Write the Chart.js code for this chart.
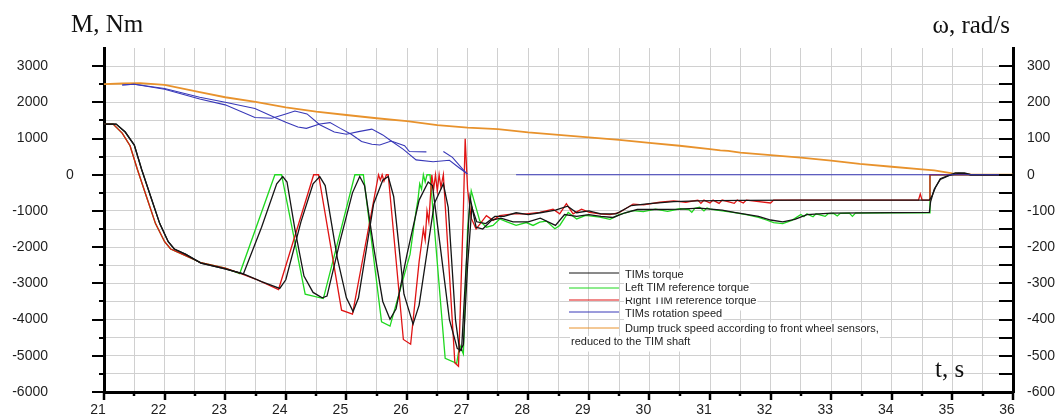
<!DOCTYPE html>
<html><head><meta charset="utf-8">
<script src="https://cdn.jsdelivr.net/npm/chart.js@4.4.1/dist/chart.umd.min.js"></script>
<style>html,body{margin:0;padding:0;background:#fff;overflow:hidden}canvas{display:block}</style>
</head><body>
<canvas id="c" width="1062" height="414"></canvas>
<script>
// ---- data: [t (s), value] ----
const timsTorqueLeft = [[21,1400],[21.2,1400],[21.35,1180],[21.5,820],[21.62,150],[21.77,-600],[21.92,-1350],[22.06,-1850],[22.16,-2050],[22.35,-2200],[22.6,-2440],[23,-2600],[23.3,-2740],[23.6,-1450],[23.85,-250],[23.95,-50],[24.02,-200],[24.15,-1500],[24.3,-2800],[24.45,-3250],[24.6,-3400],[24.68,-3350],[24.9,-1800],[25.1,-500],[25.22,-50],[25.3,-300],[25.45,-2000],[25.6,-3500],[25.72,-3990],[25.82,-3700],[26,-2200],[26.2,-700],[26.35,-200],[26.42,-300],[26.55,-2000],[26.7,-4000],[26.83,-4800],[26.9,-4850],[26.96,-3000],[27.04,-620],[27.14,-1450],[27.25,-1500],[27.4,-1250],[27.55,-1200],[27.75,-1300],[28,-1300],[28.2,-1200],[28.45,-1400],[28.6,-1100],[28.8,-1150],[29,-1100],[29.2,-1150],[29.4,-1180],[29.6,-1050],[29.8,-960],[30.1,-960],[30.5,-950],[30.83,-920],[31.2,-980],[31.4,-1040],[31.8,-1150],[32,-1250],[32.2,-1300],[32.4,-1230],[32.6,-1100],[33,-1060],[34.62,-1040],[34.64,-750],[34.7,-400],[34.8,-130],[34.95,-20],[35.1,40],[35.2,30],[35.3,0],[36,0]];
const timsTorqueRight = [[21,1400],[21.2,1400],[21.35,1180],[21.5,820],[21.62,150],[21.77,-600],[21.92,-1350],[22.06,-1850],[22.16,-2050],[22.35,-2200],[22.6,-2440],[23,-2600],[23.3,-2740],[23.6,-2950],[23.9,-3140],[24,-2900],[24.25,-1300],[24.45,-250],[24.56,-50],[24.65,-300],[24.85,-2300],[25,-3400],[25.11,-3780],[25.2,-3400],[25.45,-800],[25.6,-150],[25.69,-50],[25.78,-600],[25.95,-3300],[26.1,-4125],[26.2,-3600],[26.45,-800],[26.6,-250],[26.68,-900],[26.8,-4000],[26.87,-4870],[26.93,-4700],[27,-2500],[27.07,-900],[27.15,-1300],[27.3,-1350],[27.45,-1150],[27.6,-1150],[27.8,-1050],[28,-1100],[28.2,-1050],[28.45,-980],[28.65,-870],[28.8,-1050],[29,-1000],[29.2,-1080],[29.45,-1080],[29.7,-850],[30,-800],[30.4,-740],[30.8,-720],[31.5,-710],[32.5,-700],[34.62,-700],[34.66,-600],[34.72,-350],[34.8,-110],[34.95,-10],[35.05,50],[35.2,50],[35.3,0],[36,0]];
const leftRefTorque = [[21,1400],[21.15,1400],[21.3,1150],[21.43,800],[21.55,150],[21.7,-600],[21.85,-1350],[22,-1850],[22.1,-2050],[22.3,-2200],[22.6,-2430],[23,-2580],[23.24,-2730],[23.82,0],[23.93,0],[24.32,-3300],[24.62,-3420],[25.14,0],[25.28,0],[25.58,-4060],[25.72,-4180],[26.05,-2200],[26.15,-1000],[26.18,-700],[26.21,-250],[26.24,-400],[26.27,0],[26.3,-200],[26.33,0],[26.38,0],[26.63,-5070],[26.82,-5210],[26.87,-4700],[26.93,-4950],[27,-1500],[27.06,-440],[27.2,-1270],[27.31,-1450],[27.42,-1400],[27.53,-1220],[27.65,-1300],[27.8,-1400],[27.97,-1320],[28.08,-1400],[28.19,-1310],[28.3,-1280],[28.44,-1490],[28.52,-1400],[28.66,-1040],[28.8,-1220],[28.95,-1120],[29.18,-1170],[29.35,-1230],[29.5,-1100],[29.73,-990],[29.9,-1020],[30.1,-950],[30.3,-1010],[30.5,-940],[30.65,-960],[30.7,-1040],[30.75,-930],[30.83,-900],[30.9,-1000],[30.95,-920],[31,-950],[31.2,-1000],[31.38,-1040],[31.6,-1100],[31.8,-1180],[31.93,-1250],[32.05,-1320],[32.2,-1350],[32.35,-1260],[32.5,-1100],[32.55,-1160],[32.6,-1080],[32.7,-1160],[32.75,-1080],[32.9,-1150],[32.95,-1075],[33.04,-1070],[33.1,-1140],[33.15,-1065],[33.3,-1060],[33.35,-1150],[33.4,-1060],[34,-1050],[34.62,-1050],[34.63,0],[36,0]];
const rightRefTorque = [[21,1400],[21.15,1400],[21.3,1150],[21.43,800],[21.55,150],[21.7,-600],[21.85,-1350],[22,-1850],[22.1,-2050],[22.3,-2200],[22.6,-2430],[23,-2580],[23.24,-2720],[23.5,-2880],[23.88,-3170],[24.46,0],[24.54,0],[24.92,-3740],[25.1,-3850],[25.53,0],[25.56,-150],[25.59,0],[25.62,-180],[25.66,0],[25.69,0],[25.94,-4550],[26.06,-4680],[26.2,-2400],[26.24,-1900],[26.27,-1500],[26.3,-1800],[26.33,-1000],[26.36,-1300],[26.41,0],[26.44,-400],[26.47,0],[26.5,-450],[26.53,0],[26.56,-350],[26.6,0],[26.79,-5200],[26.85,-5290],[26.93,-1000],[26.96,990],[27,-400],[27.06,-1200],[27.14,-1500],[27.31,-1130],[27.42,-1260],[27.53,-1130],[27.75,-1080],[27.97,-1080],[28.19,-1040],[28.41,-950],[28.52,-1080],[28.63,-800],[28.74,-1080],[28.88,-950],[29.01,-1040],[29.18,-1080],[29.35,-1100],[29.5,-1050],[29.73,-810],[29.9,-830],[30.17,-760],[30.4,-720],[30.6,-760],[30.8,-700],[30.85,-790],[30.9,-700],[31,-780],[31.05,-700],[31.15,-790],[31.2,-700],[31.4,-790],[31.45,-700],[31.55,-780],[31.6,-700],[32,-780],[32.05,-700],[32.5,-700],[34.44,-700],[34.47,-530],[34.5,-700],[34.62,-700],[34.63,0],[36,0]];
const timsSpeedA = [[21.3,248],[21.5,250],[22,238],[22.58,214],[23,200],[23.49,183],[23.82,158],[24,145],[24.2,132],[24.34,128],[24.56,140],[24.73,144],[24.9,128],[25.08,112],[25.25,92],[25.42,84],[25.55,82],[25.74,93],[25.96,80],[26.04,64],[26.32,63],[26.45,null],[26.6,64],[26.75,48],[26.98,4]];
const timsSpeedB = [[21.3,248],[21.5,250],[22,236],[22.58,209],[23,193],[23.49,158],[23.77,156],[24,168],[24.15,176],[24.35,168],[24.56,138],[24.8,118],[25,112],[25.2,119],[25.42,126],[25.6,110],[25.74,93],[25.94,70],[26.15,41],[26.43,36],[26.7,40],[26.87,18],[27,2],[27.4,null],[27.8,0],[36,0]];
const truckSpeed = [[21,250],[21.3,252],[21.6,253],[22,248],[22.58,228],[23,214],[23.5,201],[24,186],[24.5,174],[25,165],[25.5,156],[26,148],[26.5,137],[27,130],[27.5,126],[28,117],[28.5,110],[29,103],[29.5,96],[30,88],[30.5,80],[31,71],[31.17,67],[31.3,66],[31.5,61],[32,54],[32.5,47],[33,39],[33.47,30],[34,22],[34.5,15],[34.7,12],[35,4],[35.3,1],[35.5,0],[36,0]];

const leftLabels = [3000,2000,1000,0,-1000,-2000,-3000,-4000,-5000,-6000];
const rightLabels = [300,200,100,0,-100,-200,-300,-400,-500,-600];
const timeLabels = [21,22,23,24,25,26,27,28,29,30,31,32,33,34,35,36];
const legendNames = ['TIMs torque','Left TIM reference torque','Right TIM reference torque','TIMs rotation speed','Dump truck speed according to front wheel sensors, reduced to the TIM shaft'];

const COL = {black:'#151515', green:'#1fd81f', red:'#e01414', blue:'#3838b8', orange:'#e8922c'};
const legendColors = [COL.black, COL.green, COL.red, COL.blue, COL.orange];
const pts = a => a.map(p => ({x:p[0], y:p[1]}));

const deco = {
  id:'deco',
  afterDraw(chart){
    const {ctx, chartArea:a, scales} = chart;
    const sx = scales.x, sy = scales.y, sr = scales.y1;
    ctx.save();
    ctx.strokeStyle = '#000';
    const seg = (x1,y1,x2,y2,w) => {ctx.lineWidth=w;ctx.beginPath();ctx.moveTo(x1,y1);ctx.lineTo(x2,y2);ctx.stroke();};
    sy.ticks.forEach(t => { if (t.value > 3000) return; const p = Math.round(sy.getPixelForValue(t.value)); seg(a.left-(t.value%1000===0?12:5), p, a.left, p, 2); });
    sr.ticks.forEach(t => { if (t.value > 300) return; const p = Math.round(sr.getPixelForValue(t.value)); seg(a.right-14, p, a.right, p, 2); });
    sx.ticks.forEach(t => { const p = Math.round(sx.getPixelForValue(t.value)); seg(p, a.bottom, p, a.bottom+(Number.isInteger(t.value)?8:4), 2.5); });

    ctx.fillStyle = '#1e1e1e';
    ctx.font = '14px "Liberation Sans", Arial, sans-serif';
    ctx.textBaseline = 'middle';
    leftLabels.forEach(v => {
      const p = sy.getPixelForValue(v);
      if (v === 0) { ctx.textAlign='center'; ctx.fillText('0', a.left-34, p); }
      else { ctx.textAlign='right'; ctx.fillText(String(v), a.left-56, p); }
    });
    ctx.textAlign = 'left';
    rightLabels.forEach(v => ctx.fillText(String(v), a.right+14, sr.getPixelForValue(v)));
    ctx.textAlign = 'center'; ctx.textBaseline = 'alphabetic';
    timeLabels.forEach(v => ctx.fillText(String(v), sx.getPixelForValue(v)-6, chart.height));

    ctx.fillStyle = '#111';
    ctx.font = '25px "Liberation Serif", "Times New Roman", serif';
    ctx.textAlign = 'left'; ctx.fillText('M, Nm', 71, 32);
    ctx.textAlign = 'right'; ctx.fillText('\u03c9, rad/s', 1010, 33);
    ctx.textAlign = 'left'; ctx.fillText('t, s', 935, 377);

    // legend
    ctx.font = '11px "Liberation Sans", Arial, sans-serif';
    ctx.textAlign = 'left'; ctx.textBaseline = 'alphabetic';
    const lineY = [273, 288, 300, 312, 328];
    const baseY = [277.5, 291, 304, 316.5, 331.5];
    const drawOrder = [0, 2, 1, 3, 4];
    const txtX = 625;
    const text = (s, x, y) => {
      const w = ctx.measureText(s).width;
      ctx.fillStyle = '#fff'; ctx.fillRect(x-1, y-9, w+2, 15.5);
      ctx.fillStyle = '#222'; ctx.fillText(s, x, y);
    };
    drawOrder.forEach(i => {
      ctx.strokeStyle = legendColors[i];
      seg(569, lineY[i], 619, lineY[i], 1);
      const words = legendNames[i].split(' ');
      let line1 = '', k = 0;
      while (k < words.length) {
        const test = line1 ? line1 + ' ' + words[k] : words[k];
        if (ctx.measureText(test).width > 268 && line1) break;
        line1 = test; k++;
      }
      text(line1, txtX, baseY[i]);
      if (k < words.length) text(words.slice(k).join(' '), 571, baseY[i] + 13.5);
    });
    ctx.restore();
  }
};

const gridCol = '#d0d0d0';
new Chart(document.getElementById('c'), {
  type: 'line',
  data: { datasets: [
    {label: legendNames[3], data: pts(timsSpeedA), yAxisID:'y1', borderColor: COL.blue, borderWidth: 1.1, order: 1},
    {label: legendNames[3], data: pts(timsSpeedB), yAxisID:'y1', borderColor: COL.blue, borderWidth: 1.1, order: 1},
    {label: legendNames[0], data: pts(timsTorqueLeft), yAxisID:'y', borderColor: COL.black, borderWidth: 1.3, order: 2},
    {label: legendNames[0], data: pts(timsTorqueRight), yAxisID:'y', borderColor: COL.black, borderWidth: 1.3, order: 2},
    {label: legendNames[2], data: pts(rightRefTorque), yAxisID:'y', borderColor: COL.red, borderWidth: 1.3, order: 3},
    {label: legendNames[1], data: pts(leftRefTorque), yAxisID:'y', borderColor: COL.green, borderWidth: 1.3, order: 4},
    {label: legendNames[4], data: pts(truckSpeed), yAxisID:'y1', borderColor: COL.orange, borderWidth: 1.8, order: 5}
  ]},
  options: {
    responsive: false, animation: false, devicePixelRatio: 1,
    layout: {padding: {left: 104, right: 49, top: 48, bottom: 22}},
    plugins: {legend: {display: false}, tooltip: {enabled: false}},
    elements: {point: {radius: 0}, line: {tension: 0, fill: false}},
    spanGaps: false,
    scales: {
      x: {type:'linear', min:21, max:36, ticks:{display:false, stepSize:0.5}, grid:{color:gridCol, drawTicks:false}, border:{color:'#000', width:3}},
      y: {position:'left', min:-6000, max:3500, ticks:{display:false, stepSize:500}, grid:{color: c => (c.tick && c.tick.value === 3500) ? 'rgba(0,0,0,0)' : gridCol, drawTicks:false}, border:{color:'#000', width:3}},
      y1: {position:'right', min:-600, max:350, ticks:{display:false, stepSize:50}, grid:{color:'rgba(0,0,0,0)', drawTicks:false}, border:{color:'#000', width:3}}
    }
  },
  plugins: [deco]
});
</script>
</body></html>
